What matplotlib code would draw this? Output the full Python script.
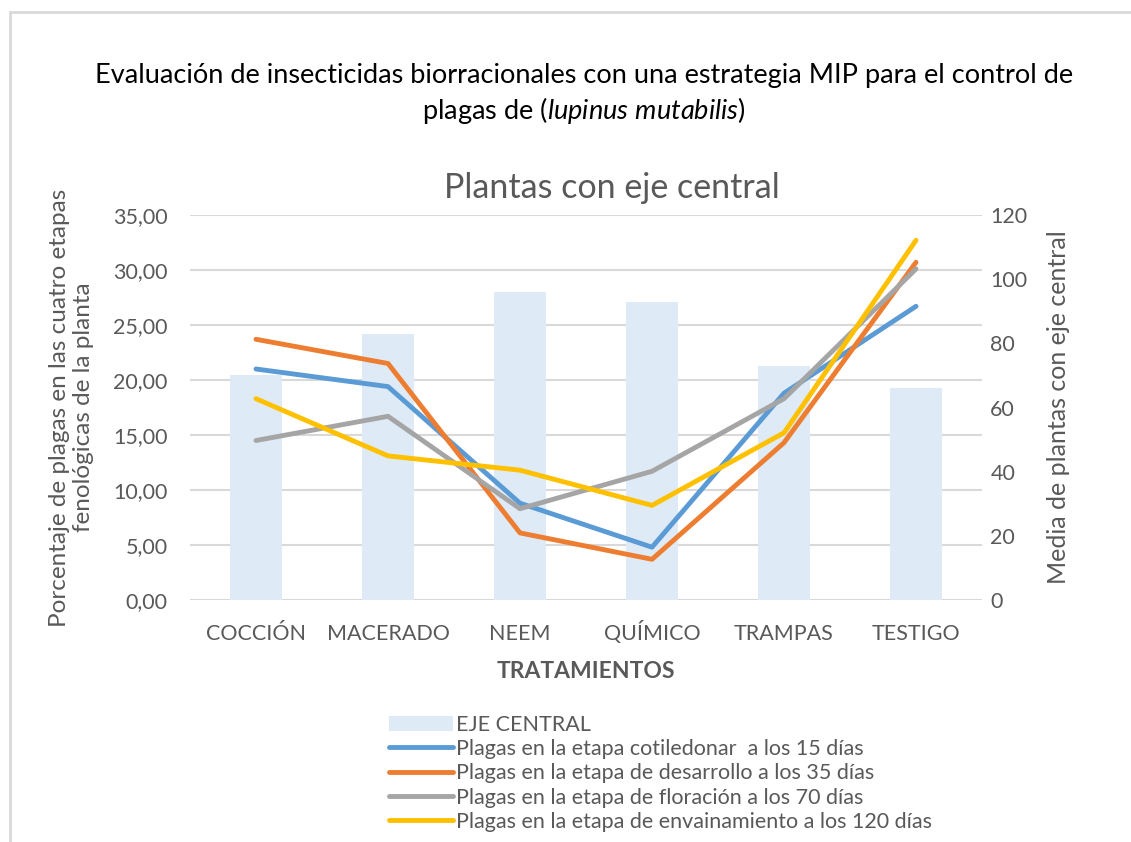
import matplotlib.pyplot as plt
from matplotlib.patches import Patch, Rectangle
from matplotlib.lines import Line2D
from matplotlib.ticker import FuncFormatter

plt.rcParams['font.family'] = ['Lato', 'DejaVu Sans']
plt.rcParams['mathtext.fontset'] = 'custom'
plt.rcParams['mathtext.it'] = 'Lato:italic'
plt.rcParams['mathtext.rm'] = 'Lato'

tratamientos = ['COCCIÓN', 'MACERADO', 'NEEM', 'QUÍMICO', 'TRAMPAS', 'TESTIGO']
eje_central = [70, 83, 96, 93, 73, 66]
cotiledonar_15 = [21.0, 19.4, 8.8, 4.8, 18.8, 26.7]
desarrollo_35 = [23.7, 21.5, 6.1, 3.7, 14.3, 30.7]
floracion_70 = [14.5, 16.7, 8.3, 11.7, 18.3, 30.1]
envainamiento_120 = [18.3, 13.1, 11.8, 8.6, 15.2, 32.7]

series = [
    ('Plagas en la etapa cotiledonar  a los 15 días', cotiledonar_15, '#5b9bd5'),
    ('Plagas en la etapa de desarrollo a los 35 días', desarrollo_35, '#ed7d31'),
    ('Plagas en la etapa de floración a los 70 días', floracion_70, '#a5a5a5'),
    ('Plagas en la etapa de envainamiento a los 120 días', envainamiento_120, '#ffc000'),
]

txt = '#595959'
fig = plt.figure(figsize=(11.31, 8.42), dpi=100)

# chart frame (cut off at right/bottom like the screenshot)
fig.patches.append(Rectangle((10 / 1131, -0.1), 1.2, (842 - 12) / 842 + 0.1,
                             transform=fig.transFigure, fill=False,
                             edgecolor='#d9d9d9', linewidth=2))

ax = fig.add_axes([190 / 1131, 1 - 600 / 842, 792 / 1131, 385 / 842])
x = list(range(len(tratamientos)))

# left axis: grid and labels
ax.set_ylim(0, 35)
ax.set_yticks(range(0, 36, 5))
ax.yaxis.set_major_formatter(FuncFormatter(lambda v, p: f'{v:.2f}'.replace('.', ',')))
ax.grid(axis='y', color='#d9d9d9', linewidth=1.5)
ax.set_xlim(-0.5, 5.5)
ax.set_xticks(x)
ax.set_xticklabels(tratamientos)
ax.tick_params(length=0, colors=txt, labelsize=15.5, pad=16)
ax.tick_params(axis='x', pad=29)
for lbl in ax.get_xticklabels():
    lbl.set_verticalalignment('baseline')
for s in ax.spines.values():
    s.set_visible(False)
ax.set_ylabel('Porcentaje de plagas en las cuatro etapas\nfenológicas de la planta',
              fontsize=17.5, color=txt, labelpad=14, linespacing=1.15)
ax.set_xlabel('TRATAMIENTOS', fontsize=16.5, fontweight='bold', color=txt, labelpad=12)

# right axis: bars
axb = ax.twinx()
axb.bar(x, eje_central, width=0.4, color='#deebf7', zorder=2)
axb.set_ylim(0, 120)
axb.set_yticks(range(0, 121, 20))
axb.tick_params(length=0, colors=txt, labelsize=15.5, pad=6)
for s in axb.spines.values():
    s.set_visible(False)
axb.set_ylabel('Media de plantas con eje central', fontsize=18, color=txt, labelpad=14)

# lines on top, same scale as left axis
axl = ax.twinx()
axl.set_ylim(0, 35)
axl.set_yticks([])
for s in axl.spines.values():
    s.set_visible(False)
for name, vals, col in series:
    axl.plot(x, vals, color=col, linewidth=3.5, solid_capstyle='round')

fig.text(0.516, 1 - 75 / 842, 'Evaluación de insecticidas biorracionales con una estrategia MIP para el control de',
         ha='center', va='center', fontsize=19.5, color='black')
fig.text(0.516, 1 - 110 / 842, 'plagas de ($\\mathit{lupinus\\ mutabilis}$)',
         ha='center', va='center', fontsize=19.5, color='black')
fig.text(0.541, 1 - 188 / 842, 'Plantas con eje central', ha='center', va='center',
         fontsize=24.5, color=txt)

handles = [Patch(facecolor='#deebf7', edgecolor='none', label='EJE CENTRAL')]
for name, vals, col in series:
    handles.append(Line2D([], [], color=col, linewidth=3.5, solid_capstyle='round', label=name))
leg = fig.legend(handles=handles, loc='upper left', bbox_to_anchor=(380 / 1131, 1 - 706 / 842),
                 frameon=False, fontsize=15.5, handlelength=3.0, handletextpad=0.15,
                 labelspacing=0.2, borderaxespad=0)
for t in leg.get_texts():
    t.set_color(txt)

fig.savefig('out.png', dpi=100)
